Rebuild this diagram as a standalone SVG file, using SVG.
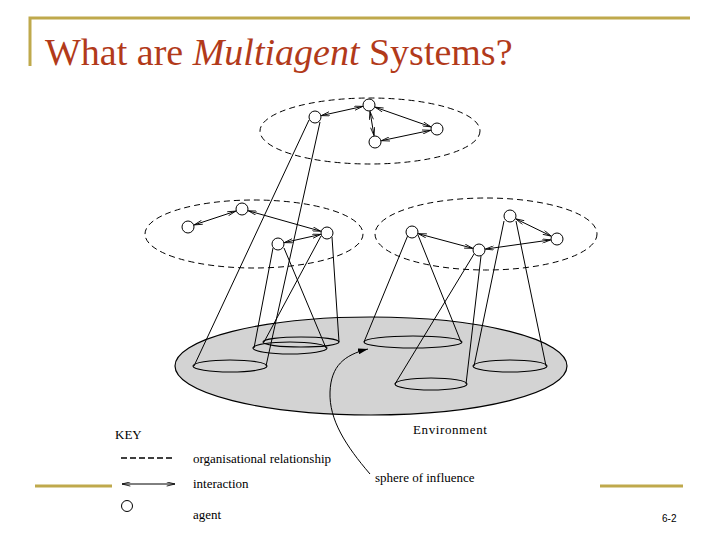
<svg xmlns="http://www.w3.org/2000/svg" width="720" height="540" viewBox="0 0 720 540">
<style>
.gold{stroke:#bfa94c;stroke-width:3;fill:none}
.org{fill:none;stroke:#000;stroke-width:1;stroke-dasharray:6,4}
.sph{fill:none;stroke:#000;stroke-width:1.2}
.cone{stroke:#000;stroke-width:1;fill:none}
.ia{stroke:#000;stroke-width:1;fill:none;marker-start:url(#ah);marker-end:url(#ah)}
.agent{fill:#fff;stroke:#000;stroke-width:1}
.title{font-family:"Liberation Serif","DejaVu Serif",serif;font-size:38px;fill:#b23a1a}
.lbl{font-family:"Liberation Serif","DejaVu Serif",serif;font-size:13px;fill:#000}
.pg{font-family:"Liberation Sans",Arial,sans-serif;font-size:10px;fill:#000}
</style>
<defs>
<marker id="ah" viewBox="0 0 10 6" refX="10" refY="3" markerWidth="9" markerHeight="5" markerUnits="userSpaceOnUse" orient="auto-start-reverse">
<path d="M0,0.5 L10,3 L0,5.5" fill="none" stroke="#000" stroke-width="1"/>
</marker>
<marker id="ph" viewBox="0 0 10 6" refX="10" refY="3" markerWidth="10" markerHeight="6" markerUnits="userSpaceOnUse" orient="auto">
<path d="M0,0 L10,3 L0,6 Z" fill="#000"/>
</marker>
</defs>
<rect width="720" height="540" fill="#fff"/>
<g id="frame">
<path class="gold" d="M30,66 V18 H690"/>
<line class="gold" x1="35" y1="486" x2="112" y2="486"/>
<line class="gold" x1="600" y1="486" x2="683" y2="486"/>
</g>
<g id="title">
<text class="title" x="45" y="65">What are <tspan font-style="italic">Multiagent</tspan> Systems?</text>
</g>
<g id="environment">
<ellipse cx="371" cy="366" rx="196" ry="49" fill="#d3d3d3" stroke="#000" stroke-width="1.2"/>
</g>
<g id="spheres">
<ellipse id="sph-a1" class="sph" cx="230" cy="366" rx="37" ry="6"/>
<ellipse id="sph-b4" class="sph" cx="290" cy="348" rx="37" ry="6"/>
<ellipse id="sph-b3" class="sph" cx="301" cy="342" rx="38" ry="5"/>
<ellipse id="sph-c1" class="sph" cx="413" cy="342" rx="49" ry="6"/>
<ellipse id="sph-c4" class="sph" cx="431" cy="384" rx="36" ry="6"/>
<ellipse id="sph-c2" class="sph" cx="510" cy="366" rx="37" ry="6"/>
</g>
<g id="organisations">
<ellipse id="org-top" class="org" cx="370" cy="131" rx="110" ry="33"/>
<ellipse id="org-left" class="org" cx="254" cy="234" rx="109" ry="34"/>
<ellipse id="org-right" class="org" cx="486" cy="234" rx="111" ry="36"/>
</g>
<g id="connectors">
<line class="cone" x1="309" y1="120" x2="194" y2="366"/>
<line class="cone" x1="320" y1="122" x2="266" y2="366"/>
<line class="cone" x1="273" y1="248" x2="254" y2="348"/>
<line class="cone" x1="284" y1="248" x2="326" y2="348"/>
<line class="cone" x1="321" y1="236" x2="264" y2="342"/>
<line class="cone" x1="332" y1="237" x2="339" y2="342"/>
<line class="cone" x1="408" y1="235" x2="364" y2="342"/>
<line class="cone" x1="418" y1="235" x2="461" y2="342"/>
<line class="cone" x1="474" y1="254" x2="395" y2="384"/>
<line class="cone" x1="481" y1="256" x2="466" y2="384"/>
<line class="cone" x1="504" y1="221" x2="474" y2="366"/>
<line class="cone" x1="516" y1="221" x2="546" y2="366"/>
<line class="ia" x1="321.3" y1="115.6" x2="362.7" y2="106.4"/>
<line class="ia" x1="375.1" y1="107.2" x2="430.9" y2="126.8"/>
<line class="ia" x1="370" y1="111.4" x2="374" y2="135.6"/>
<line class="ia" x1="381.4" y1="140.7" x2="430.6" y2="130.3"/>
<line class="ia" x1="194.2" y1="224.9" x2="235.8" y2="211.1"/>
<line class="ia" x1="248.3" y1="210.8" x2="320.7" y2="231.2"/>
<line class="ia" x1="284.3" y1="242.6" x2="320.7" y2="234.4"/>
<line class="ia" x1="418.3" y1="233.7" x2="472.7" y2="248.3"/>
<line class="ia" x1="515.8" y1="218.9" x2="551.2" y2="236.1"/>
<line class="ia" x1="485.4" y1="249.1" x2="550.6" y2="239.9"/>
<path class="cone" d="M370,474 C346,446 329,420 330,392 C331,366 344,355 368,349" marker-end="url(#ph)"/>
</g>
<g id="agents">
<circle id="a1" class="agent" cx="315" cy="117" r="6"/>
<circle id="a2" class="agent" cx="369" cy="105" r="6"/>
<circle id="a3" class="agent" cx="437" cy="129" r="6"/>
<circle id="a4" class="agent" cx="375" cy="142" r="6"/>
<circle id="b1" class="agent" cx="188" cy="227" r="6"/>
<circle id="b2" class="agent" cx="242" cy="209" r="6"/>
<circle id="b3" class="agent" cx="327" cy="233" r="6"/>
<circle id="b4" class="agent" cx="278" cy="244" r="6"/>
<circle id="c1" class="agent" cx="412" cy="232" r="6"/>
<circle id="c2" class="agent" cx="510" cy="216" r="6"/>
<circle id="c3" class="agent" cx="557" cy="239" r="6"/>
<circle id="c4" class="agent" cx="479" cy="250" r="6"/>
</g>
<g id="labels">
<text class="lbl" x="413" y="434" letter-spacing="0.6">Environment</text>
<text class="lbl" x="375" y="482" font-size="12.5">sphere of influence</text>
</g>
<g id="key">
<text class="lbl" x="115" y="439" font-size="13.5">KEY</text>
<line x1="121" y1="458" x2="175" y2="458" stroke="#000" stroke-width="1.5" stroke-dasharray="6,3"/>
<text class="lbl" x="193" y="463" font-size="12.5">organisational relationship</text>
<line class="ia" x1="122" y1="484" x2="175" y2="484"/>
<text class="lbl" x="193" y="488" font-size="12.5">interaction</text>
<circle class="agent" cx="127" cy="506" r="5.5"/>
<text class="lbl" x="193" y="519" font-size="12.5">agent</text>
</g>
<g id="page">
<text class="pg" x="662" y="522">6-2</text>
</g>
</svg>
